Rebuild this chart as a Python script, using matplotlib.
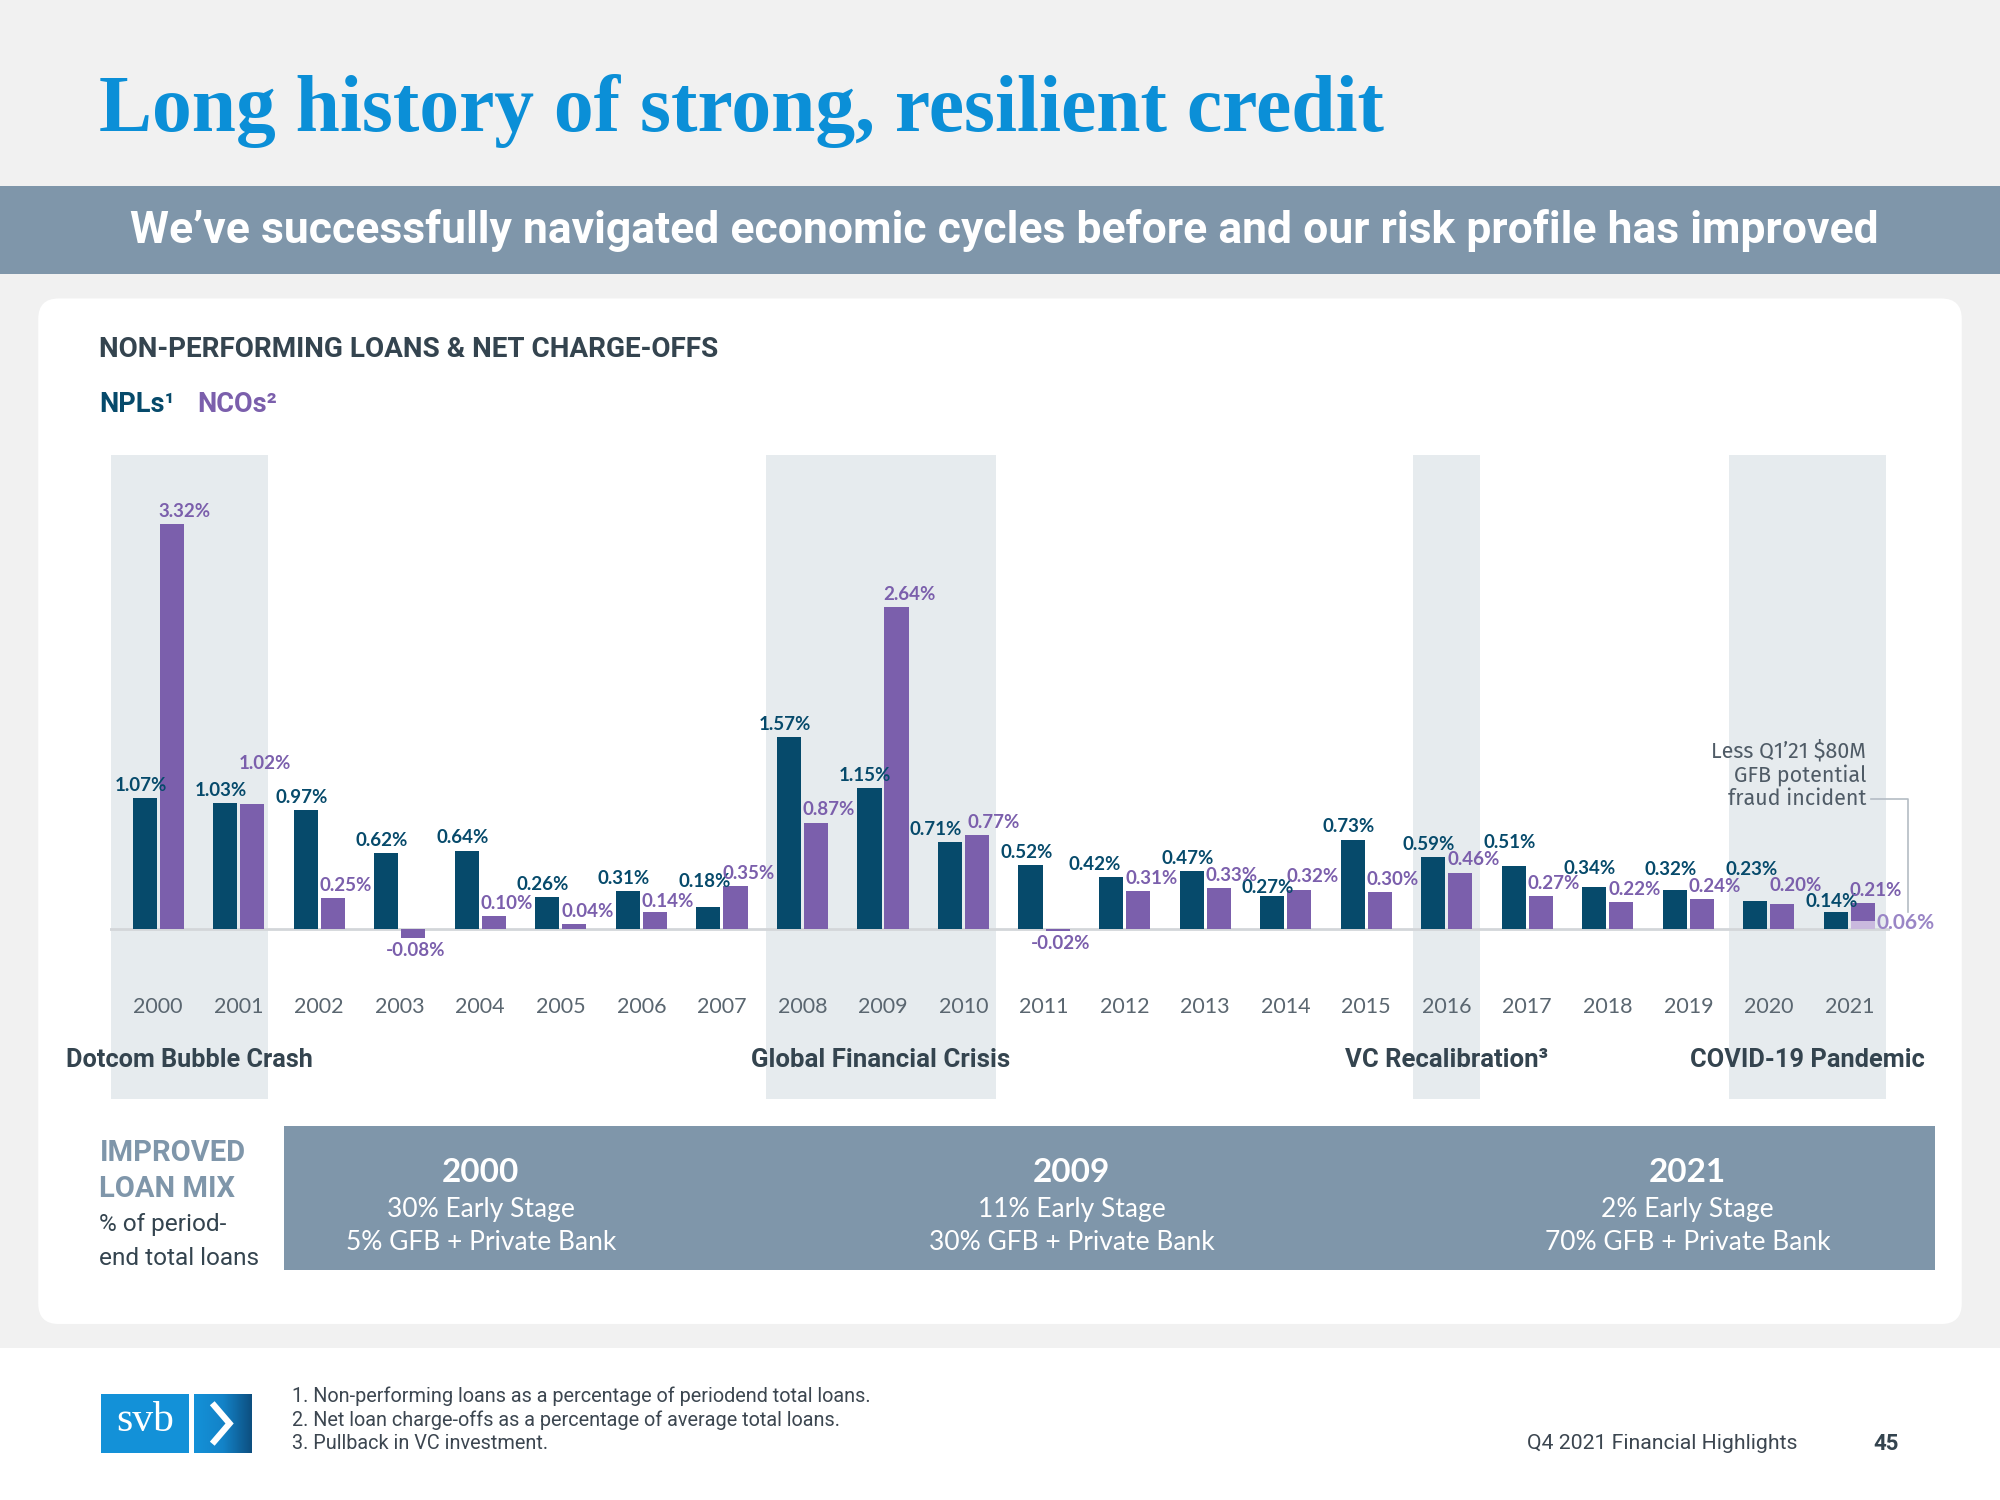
import matplotlib.pyplot as plt
import numpy as np
from matplotlib.patches import FancyBboxPatch, Rectangle
from matplotlib.colors import LinearSegmentedColormap

# ---- data ----
years = ['2000', '2001', '2002', '2003', '2004', '2005', '2006', '2007', '2008', '2009', '2010',
         '2011', '2012', '2013', '2014', '2015', '2016', '2017', '2018', '2019', '2020', '2021']
npl = [1.07, 1.03, 0.97, 0.62, 0.64, 0.26, 0.31, 0.18, 1.57, 1.15, 0.71,
       0.52, 0.42, 0.47, 0.27, 0.73, 0.59, 0.51, 0.34, 0.32, 0.23, 0.14]
nco = [3.32, 1.02, 0.25, -0.08, 0.10, 0.04, 0.14, 0.35, 0.87, 2.64, 0.77,
       -0.02, 0.31, 0.33, 0.32, 0.30, 0.46, 0.27, 0.22, 0.24, 0.20, 0.21]
nco_ex_fraud_2021 = 0.06

eras = [('Dotcom Bubble Crash', -0.59, 1.36),
        ('Global Financial Crisis', 7.55, 10.40),
        ('VC Recalibration³', 15.58, 16.41),
        ('COVID-19 Pandemic', 19.50, 21.46)]

mix_years = ['2000', '2009', '2021']
mix_early = ['30% Early Stage', '11% Early Stage', '2% Early Stage']
mix_gfb = ['5% GFB + Private Bank', '30% GFB + Private Bank', '70% GFB + Private Bank']

footnotes = ['1. Non-performing loans as a percentage of periodend total loans.',
             '2. Net loan charge-offs as a percentage of average total loans.',
             '3. Pullback in VC investment.']

# ---- style ----
NPL_C = '#064a6b'
NCO_C = '#7b5fac'
NCO_LIGHT = '#c9b9de'
BLUE = '#0b8fd7'
SLATE = '#7f96aa'
DARK = '#34444f'
SHADE = '#e6ebee'
COND = ['Liberation Sans Narrow', 'Roboto']
BODY = ['Lato', 'DejaVu Sans']

W, H = 1568, 1176          # layout units of the slide
S = 2000 / W               # pixels per layout unit

fig = plt.figure(figsize=(20, 15), dpi=100)
fig.patch.set_facecolor('#f1f1f1')
bg = fig.add_axes([0, 0, 1, 1])
bg.set_xlim(0, W)
bg.set_ylim(H, 0)
bg.axis('off')


def fit(t, width):
    r = fig.canvas.get_renderer()
    w = t.get_window_extent(r).width
    t.set_fontsize(t.get_fontsize() * width * S / w)
    return t


# background blocks
bg.add_patch(Rectangle((0, 1057), W, H - 1057, color='white', lw=0))
bg.add_patch(Rectangle((0, 146), W, 69, color=SLATE, lw=0))
bg.add_patch(FancyBboxPatch((30, 234), 1508, 804, boxstyle='round,pad=0,rounding_size=16',
                            fc='white', ec='none'))

t = bg.text(78, 103, 'Long history of strong, resilient credit', color=BLUE, weight='bold',
            family=['Liberation Serif'], size=58, va='baseline')
fit(t, 1007)
t = bg.text(102, 181, 'We’ve successfully navigated economic cycles before and our risk profile has improved',
            color='white', weight='bold', family=COND, size=32, va='center')
fit(t, 1372)

t = bg.text(78, 274, 'NON-PERFORMING LOANS & NET CHARGE-OFFS', color=DARK, weight='bold',
            family=COND, size=20, va='center')
fit(t, 485)
bg.text(78, 317, 'NPLs¹', color=NPL_C, weight='bold', family=COND, size=19.5, va='center')
bg.text(155, 317, 'NCOs²', color=NCO_C, weight='bold', family=COND, size=19.5, va='center')

# ---- chart ----
x0_px, dx_px, base_px, px_pct = 124, 63.14, 728, 95.5
left_px, right_px = x0_px - 0.6 * dx_px, x0_px + 21.5 * dx_px
top_px, bot_px = 357, 862
ax = fig.add_axes([left_px / W, 1 - bot_px / H, (right_px - left_px) / W, (bot_px - top_px) / H])
ax.set_xlim(-0.6, 21.5)
ax.set_ylim(-(bot_px - base_px) / px_pct, (base_px - top_px) / px_pct)
ax.axis('off')

era_widths = [193, 203, 159, 184]
for (label, s, e), ew in zip(eras, era_widths):
    ax.axvspan(s, e, color=SHADE, lw=0, zorder=0)
    t = ax.text((s + e) / 2, -1.08, label, ha='center', va='center', color=DARK,
                weight='bold', family=COND, size=17)
    fit(t, ew)

x = np.arange(len(years))
off, bw = 0.168, 0.30
ax.axhline(0, color='#d3d6d9', lw=2, zorder=2)
ax.bar(x - off, npl, bw, color=NPL_C, zorder=3)
ax.bar(x[:-1] + off, nco[:-1], bw, color=NCO_C, zorder=3)
ax.bar(x[-1] + off, nco_ex_fraud_2021, bw, color=NCO_LIGHT, zorder=3)
ax.bar(x[-1] + off, nco[-1] - nco_ex_fraud_2021, bw, bottom=nco_ex_fraud_2021, color=NCO_C, zorder=3)

# label nudges where the slide staggers crowded labels (lift in points, shift in categories)
npl_lift = {7: 9, 14: -3, 17: 8, 18: 4, 19: 5, 20: 13, 21: -2}
npl_shift = {10: -0.12, 12: -0.15}
nco_lift = {1: 20, 6: -2, 20: 4}
nco_shift = {10: 0.05}
lbl = dict(ha='center', weight='bold', family=BODY, size=13.5, textcoords='offset points', zorder=5)
for i, v in enumerate(npl):
    ax.annotate(f'{v:.2f}%', (i - 0.22 + npl_shift.get(i, 0), v), xytext=(0, 3 + npl_lift.get(i, 0)),
                va='bottom', color=NPL_C, **lbl)
for i, v in enumerate(nco):
    if v < 0:
        ax.annotate(f'{v:.2f}%', (i + 0.2, v), xytext=(0, -3), va='top', color=NCO_C, **lbl)
    else:
        ax.annotate(f'{v:.2f}%', (i + 0.33 + nco_shift.get(i, 0), v), xytext=(0, 3 + nco_lift.get(i, 0)),
                    va='bottom', color=NCO_C, **lbl)
ax.annotate(f'{nco_ex_fraud_2021:.2f}%', (x[-1] + off + bw / 2, nco_ex_fraud_2021), xytext=(1, -1),
            textcoords='offset points', ha='left', va='center', color='#9a86c6', weight='bold',
            family=BODY, size=15, zorder=5)

for i, y in enumerate(years):
    ax.text(i, -0.64, y, ha='center', va='center', color='#5a6670', family=BODY, size=15.5)

# fraud note with leader line
note_y = 1.06
ax.text(x[-1] + 0.21, note_y - 0.08, 'Less Q1’21 $80M\nGFB potential\nfraud incident', ha='right',
        va='bottom', multialignment='right', color='#4f5b66', family=['Fira Sans', 'Roboto'],
        size=15.5, linespacing=1.1)
ax.plot([x[-1] + 0.27, x[-1] + 0.73, x[-1] + 0.73], [note_y, note_y, nco_ex_fraud_2021 + 0.08],
        color='#b4bcc4', lw=1.2, clip_on=False, zorder=4)

# ---- improved loan mix ----
t = bg.text(78, 904, 'IMPROVED', color=SLATE, weight='bold', family=COND, size=22, va='center')
fit(t, 114)
bg.text(78, 932, 'LOAN MIX', color=SLATE, weight='bold', family=COND, size=t.get_fontsize(), va='center')
t = bg.text(78, 987, 'end total loans', color=DARK, family=COND, size=18.5, va='center')
fit(t, 126)
bg.text(78, 960, '% of period-', color=DARK, family=COND, size=t.get_fontsize(), va='center')
bg.add_patch(Rectangle((223, 883), 1294, 113, color=SLATE, lw=0))
for cx, yr, a, b in zip([377, 840, 1323], mix_years, mix_early, mix_gfb):
    bg.text(cx, 919, yr, ha='center', va='center', color='white', weight='bold', family=BODY, size=24)
    bg.text(cx, 948, a, ha='center', va='center', color='white', family=BODY, size=19)
    bg.text(cx, 974, b, ha='center', va='center', color='white', family=BODY, size=19)

# ---- footer ----
bg.add_patch(Rectangle((79, 1093), 69, 46, color='#1391d8', lw=0))
grad = np.linspace(0, 1, 64).reshape(1, -1)
cm = LinearSegmentedColormap.from_list('svb', ['#1391d8', '#1383c8', '#0d4f80'])
bg.imshow(grad, cmap=cm, extent=(152, 197, 1139, 1093), aspect='auto', zorder=2)
bg.set_xlim(0, W)
bg.set_ylim(H, 0)
bg.text(113.5, 1114, 'svb', ha='center', va='center', color='white', family=['Liberation Serif'], size=30, zorder=3)
bg.plot([168, 180, 168], [1102, 1116, 1130], color='white', lw=4.5, solid_joinstyle='miter', zorder=3)

t0 = None
for i, note in enumerate(footnotes):
    t = bg.text(229, 1095 + i * 18.5, note, va='center', color='#3c4650', family=COND, size=13)
    if t0 is None:
        fit(t, 454)
        t0 = t
    else:
        t.set_fontsize(t0.get_fontsize())
t = bg.text(1197, 1132, 'Q4 2021 Financial Highlights', va='center', color='#3c4650', family=COND, size=13)
fit(t, 213)
bg.text(1479, 1132, '45', ha='center', va='center', color=DARK, weight='bold', family=COND, size=16)

fig.savefig('out.png', dpi=100, facecolor=fig.get_facecolor())
